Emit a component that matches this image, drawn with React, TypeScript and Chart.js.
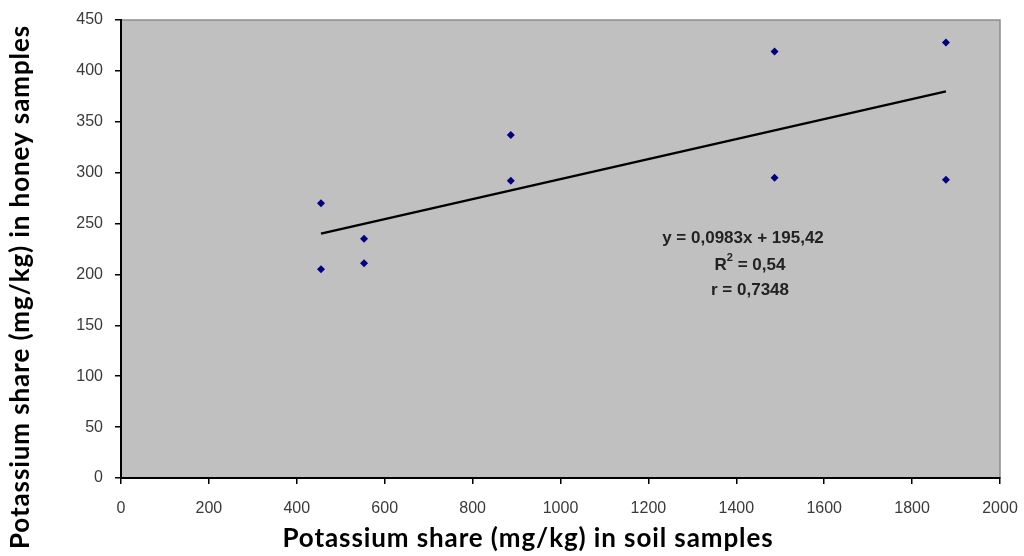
import React, { useEffect, useRef } from "react";
import { Chart, registerables } from "chart.js";

Chart.register(...registerables);

const soilX = [455, 455, 553, 553, 887, 887, 1487, 1487, 1877, 1877];
const honeyY = [270, 205, 235, 211, 337, 292, 419, 295, 428, 293];
const trendX = [455, 1877];
const trendY = [240.1, 379.9];
const equationLines = ["y = 0,0983x + 195,42", "R", "r = 0,7348"];
const xTitle = "Potassium share (mg/kg) in soil samples";
const yTitle = "Potassium share (mg/kg) in honey samples";

const tickFont = { family: "'Liberation Sans', Arial, sans-serif", size: 16 };
const titleFont = "bold 26px Lato, 'Open Sans', sans-serif";
const eqFont = "bold 17px 'Liberation Sans', Arial, sans-serif";
const supFont = "bold 11px 'Liberation Sans', Arial, sans-serif";

const decorPlugin = {
  id: "decor",
  beforeDraw(chart: any) {
    const { ctx, chartArea: a } = chart;
    ctx.save();
    ctx.fillStyle = "#ffffff";
    ctx.fillRect(0, 0, chart.width, chart.height);
    ctx.fillStyle = "#c0c0c0";
    ctx.fillRect(a.left, a.top, a.right - a.left, a.bottom - a.top);
    ctx.strokeStyle = "#8c8c8c";
    ctx.lineWidth = 1.5;
    ctx.strokeRect(a.left, a.top, a.right - a.left, a.bottom - a.top);
    ctx.restore();
  },
  afterDraw(chart: any) {
    const { ctx } = chart;
    ctx.save();
    ctx.fillStyle = "#000000";
    ctx.font = titleFont;
    (ctx as any).letterSpacing = "0.9px";
    ctx.textAlign = "center";
    ctx.textBaseline = "alphabetic";
    ctx.fillText(xTitle, 528, 547);
    ctx.translate(29, 287);
    ctx.rotate(-Math.PI / 2);
    ctx.fillText(yTitle, 0, 0);
    ctx.restore();

    ctx.save();
    ctx.fillStyle = "#222222";
    ctx.font = eqFont;
    ctx.textAlign = "center";
    ctx.textBaseline = "middle";
    ctx.fillText(equationLines[0], 743, 238);
    const rest = " = 0,54";
    const wR = ctx.measureText("R").width;
    const wRest = ctx.measureText(rest).width;
    ctx.font = supFont;
    const w2 = ctx.measureText("2").width;
    const total = wR + w2 + wRest;
    const x0 = 750 - total / 2;
    ctx.textAlign = "left";
    ctx.font = eqFont;
    ctx.fillText(equationLines[1], x0, 265);
    ctx.font = supFont;
    ctx.fillText("2", x0 + wR, 258);
    ctx.font = eqFont;
    ctx.fillText(rest, x0 + wR + w2, 265);
    ctx.textAlign = "center";
    ctx.fillText(equationLines[2], 750, 290);
    ctx.restore();
  },
};

export default function App() {
  const ref = useRef<HTMLCanvasElement>(null);
  useEffect(() => {
    if (!ref.current) return;
    const chart = new Chart(ref.current, {
      type: "scatter",
      data: {
        datasets: [
          {
            label: "Samples",
            data: soilX.map((x, i) => ({ x, y: honeyY[i] })),
            pointStyle: "rectRot",
            pointRadius: 4,
            backgroundColor: "#000080",
            borderColor: "#000080",
            borderWidth: 0,
            order: 1,
          },
          {
            type: "line",
            label: "Trend",
            data: trendX.map((x, i) => ({ x, y: trendY[i] })),
            borderColor: "#000000",
            borderWidth: 2.5,
            pointRadius: 0,
            fill: false,
            order: 2,
          } as any,
        ],
      },
      options: {
        responsive: false,
        animation: false,
        layout: { padding: { top: 20, right: 24, left: 0, bottom: 0 } },
        plugins: { legend: { display: false }, tooltip: { enabled: false } },
        scales: {
          x: {
            type: "linear",
            min: 0,
            max: 2000,
            ticks: {
              stepSize: 200,
              color: "#3a3a3a",
              font: tickFont,
              padding: 15,
              callback: (v: any) => String(v),
            },
            grid: { drawOnChartArea: false, drawTicks: true, tickLength: 6, color: "#000000", lineWidth: 1.5 },
            border: { color: "#000000", width: 2 },
            afterFit(s: any) {
              s.height = 78;
              s.paddingLeft = 0;
              s.paddingRight = 0;
            },
          },
          y: {
            type: "linear",
            min: 0,
            max: 450,
            ticks: { stepSize: 50, color: "#3a3a3a", font: tickFont, padding: 12, callback: (v: any) => String(v) },
            grid: { drawOnChartArea: false, drawTicks: true, tickLength: 6, color: "#000000", lineWidth: 1.5 },
            border: { color: "#000000", width: 2 },
            afterFit(s: any) {
              s.width = 121;
              s.paddingTop = 0;
              s.paddingBottom = 0;
            },
          },
        },
      },
      plugins: [decorPlugin],
    });
    return () => chart.destroy();
  }, []);
  return (
    <div style={{ position: "fixed", left: 0, top: 0, width: 1024, height: 556, background: "#fff" }}>
      <canvas ref={ref} width={1024} height={556} style={{ width: 1024, height: 556, display: "block" }} />
    </div>
  );
}
